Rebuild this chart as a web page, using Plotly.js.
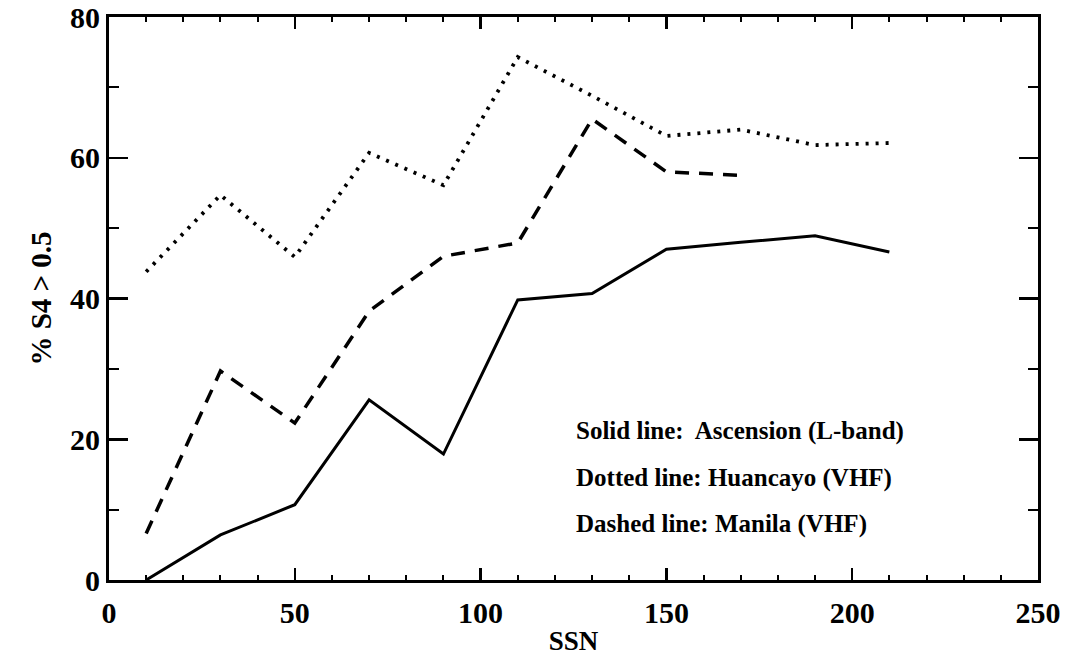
<!DOCTYPE html>
<html>
<head>
<meta charset="utf-8">
<script src="https://cdn.plot.ly/plotly-3.0.1.min.js"></script>
<style>
  html, body { margin: 0; padding: 0; background: #fff; }
  #chart { width: 1065px; height: 659px; }
</style>
</head>
<body>
<div id="chart"></div>
<script>
// Sunspot number bins (SSN)
const ssn = [10, 30, 50, 70, 90, 110, 130, 150, 170, 190, 210];
const ssnManila = [10, 30, 50, 70, 90, 110, 130, 150, 170];

// Percentage of time with S4 > 0.5 at each station
const ascension = [0, 6.4, 10.7, 25.6, 17.9, 39.8, 40.7, 47.0, 48.0, 48.9, 46.6];
const huancayo  = [43.8, 54.7, 45.9, 60.7, 56.1, 74.3, 68.8, 63.1, 64.0, 61.8, 62.1];
const manila    = [6.6, 29.7, 22.3, 38.2, 46.0, 47.9, 65.5, 58.0, 57.5];

const legendLines = [
  'Solid line:  Ascension (L-band)',
  'Dotted line: Huancayo (VHF)',
  'Dashed line: Manila (VHF)'
];

const serif = 'Liberation Serif, Times New Roman, serif';

const traces = [
  { x: ssn, y: ascension, mode: 'lines', cliponaxis: false,
    line: { color: '#000', width: 3 } },
  { x: ssn, y: huancayo, mode: 'lines', cliponaxis: false,
    line: { color: '#000', width: 3.8, dash: '3px,7px' } },
  { x: ssnManila, y: manila, mode: 'lines', cliponaxis: false,
    line: { color: '#000', width: 3.5, dash: '14px,10px' } }
];

const annotations = legendLines.map((t, i) => ({
  text: t, xref: 'paper', yref: 'paper',
  x: 0.500, y: 0.264 - i * 0.0825,
  xanchor: 'left', yanchor: 'middle', showarrow: false,
  font: { family: serif, size: 25, color: '#000', weight: 'bold' }
}));

const layout = {
  width: 1065, height: 659,
  margin: { l: 109, r: 27, t: 17, b: 79 },
  paper_bgcolor: '#fff', plot_bgcolor: '#fff',
  showlegend: false,
  font: { family: serif, color: '#000' },
  xaxis: {
    range: [0, 250], dtick: 50, tick0: 0,
    ticks: 'inside', ticklen: 12, tickwidth: 2.5, tickcolor: '#000',
    minor: { dtick: 10, ticks: 'inside', ticklen: 5, tickwidth: 2, tickcolor: '#000' },
    showline: true, linewidth: 3, linecolor: '#000', mirror: 'ticks',
    showgrid: false, zeroline: false,
    tickfont: { family: serif, size: 30, color: '#000', weight: 'bold' },
    ticklabelstandoff: 4,
    title: { text: 'SSN', font: { family: serif, size: 27, color: '#000', weight: 'bold' }, standoff: 4 }
  },
  yaxis: {
    range: [0, 80], dtick: 20, tick0: 0,
    ticks: 'inside', ticklen: 19, tickwidth: 2.5, tickcolor: '#000',
    minor: { dtick: 10, ticks: 'inside', ticklen: 10, tickwidth: 2, tickcolor: '#000' },
    showline: true, linewidth: 3, linecolor: '#000', mirror: 'ticks',
    showgrid: false, zeroline: false,
    tickfont: { family: serif, size: 30, color: '#000', weight: 'bold' },
    title: { text: '% S4 > 0.5', font: { family: serif, size: 29, color: '#000', weight: 'bold' }, standoff: 10 }
  },
  annotations: annotations
};

Plotly.newPlot('chart', traces, layout, { staticPlot: true, displayModeBar: false });
</script>
</body>
</html>
